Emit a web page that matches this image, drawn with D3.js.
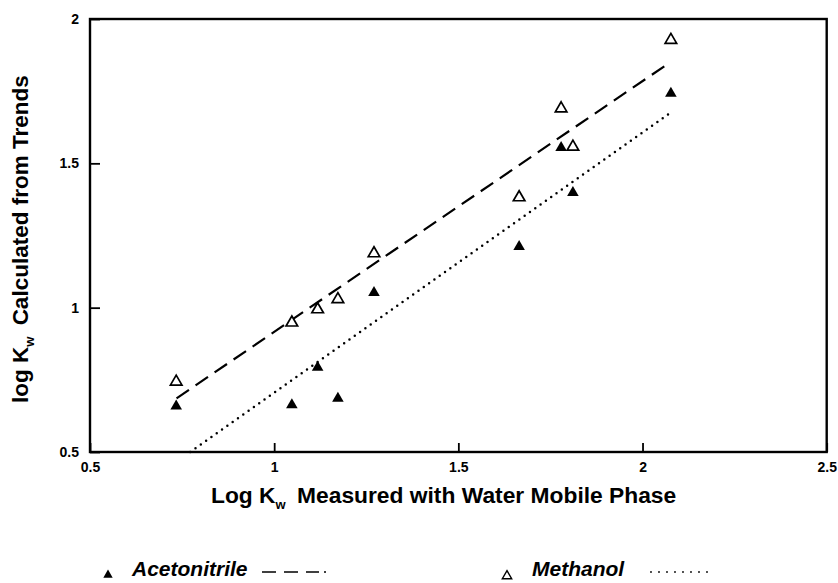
<!doctype html>
<html lang="en">
<head>
<meta charset="utf-8" />
<title>log Kw</title>
<script src="https://d3js.org/d3.v7.min.js"></script>
<style>
  body { margin: 0; background: #fff; }
  svg { display: block; font-family: "Liberation Sans", Arial, sans-serif; }
  .tick line { stroke: #000; stroke-width: 1.8; }
</style>
</head>
<body>
<div id="chart"></div>
<script>
// measured log Kw (x) and the two calculated series (y)
var logKwMeasured = [0.734, 1.048, 1.118, 1.173, 1.271, 1.665, 1.779, 1.811, 2.077];
var acetonitrile  = [0.659, 0.663, 0.793, 0.686, 1.052, 1.211, 1.554, 1.398, 1.742];
var methanol      = [0.743, 0.948, 0.994, 1.029, 1.188, 1.382, 1.690, 1.557, 1.927];

// trend lines, as drawn (end points)
var dashedX = [0.735, 2.067], dashedY = [0.686, 1.843];
var dottedX = [0.772, 2.070], dottedY = [0.5, 1.670];

var xTicks = [0.5, 1, 1.5, 2, 2.5];
var yTicks = [0.5, 1, 1.5, 2];

var width = 838, height = 583;
var plotLeft = 90, plotRight = 826.7, plotTop = 19, plotBottom = 452;

var svg = d3.select("#chart").append("svg")
  .attr("width", width)
  .attr("height", height);

var x = d3.scaleLinear().domain([0.5, 2.5]).range([plotLeft, plotRight]);
var y = d3.scaleLinear().domain([0.5, 2]).range([plotBottom, plotTop]);

// axes, ticks pointing inward
var xAxis = d3.axisBottom(x).tickValues(xTicks).tickFormat(d3.format(""))
  .tickSizeInner(-9).tickSizeOuter(0).tickPadding(10);
var yAxis = d3.axisLeft(y).tickValues(yTicks).tickFormat(d3.format(""))
  .tickSizeInner(-10).tickSizeOuter(0).tickPadding(11);

function styleAxis(g) {
  g.select(".domain").remove();
  g.attr("font-family", null).attr("font-size", null);
  g.selectAll("text").attr("font-size", "14px").attr("font-weight", "bold").attr("fill", "#000");
}

svg.append("g").attr("transform", "translate(0," + plotBottom + ")").call(xAxis).call(styleAxis);
svg.append("g").attr("transform", "translate(" + plotLeft + ",0)").call(yAxis).call(styleAxis);

// frame round the plot
svg.append("rect")
  .attr("x", plotLeft).attr("y", plotTop)
  .attr("width", plotRight - plotLeft).attr("height", plotBottom - plotTop)
  .attr("fill", "none").attr("stroke", "#000").attr("stroke-width", 2.4);

// trend lines
var line = d3.line().x(function(d){ return x(d[0]); }).y(function(d){ return y(d[1]); });

svg.append("path")
  .datum(d3.zip(dashedX, dashedY))
  .attr("d", line)
  .attr("fill", "none").attr("stroke", "#000").attr("stroke-width", 2.2)
  .attr("stroke-dasharray", "15,8");

svg.append("path")
  .datum(d3.zip(dottedX, dottedY))
  .attr("d", line)
  .attr("fill", "none").attr("stroke", "#000").attr("stroke-width", 2.5)
  .attr("stroke-linecap", "round")
  .attr("stroke-dasharray", "0,6.5");

// points
var tri = d3.symbol().type(d3.symbolTriangle).size(58);

svg.selectAll(".meth").data(d3.zip(logKwMeasured, methanol)).enter()
  .append("path").attr("class", "meth")
  .attr("d", tri)
  .attr("transform", function(d){ return "translate(" + x(d[0]) + "," + y(d[1]) + ")"; })
  .attr("fill", "#fff").attr("stroke", "#000").attr("stroke-width", 1.7);

svg.selectAll(".acn").data(d3.zip(logKwMeasured, acetonitrile)).enter()
  .append("path").attr("class", "acn")
  .attr("d", tri)
  .attr("transform", function(d){ return "translate(" + x(d[0]) + "," + y(d[1]) + ")"; })
  .attr("fill", "#000");

// axis titles
var xt = svg.append("text")
  .attr("x", 211).attr("y", 503)
  .attr("font-size", "22.8px").attr("font-weight", "bold");
xt.append("tspan").text("Log K");
xt.append("tspan").attr("font-size", "13px").attr("dy", 6).text("w");
xt.append("tspan").attr("dy", -6).attr("dx", 5).text(" Measured with Water Mobile Phase");

var yt = svg.append("text")
  .attr("transform", "translate(28,403) rotate(-90)")
  .attr("font-size", "22.5px").attr("font-weight", "bold");
yt.append("tspan").text("log K");
yt.append("tspan").attr("font-size", "13px").attr("dy", 6).text("w");
yt.append("tspan").attr("dy", -6).attr("dx", 5).text(" Calculated from Trends");

// legend
var legTri = d3.symbol().type(d3.symbolTriangle).size(38);

svg.append("path").attr("d", legTri)
  .attr("transform", "translate(108,575)").attr("fill", "#000");
svg.append("text").attr("x", 132).attr("y", 576)
  .attr("font-size", "21px").attr("font-weight", "bold").attr("font-style", "italic")
  .text("Acetonitrile");
svg.append("line").attr("x1", 262).attr("x2", 327).attr("y1", 572).attr("y2", 572)
  .attr("stroke", "#000").attr("stroke-width", 1.6).attr("stroke-dasharray", "14,8,14,8,13,5,2,30");

svg.append("path").attr("d", legTri)
  .attr("transform", "translate(507,576)")
  .attr("fill", "#fff").attr("stroke", "#000").attr("stroke-width", 1.4);
svg.append("text").attr("x", 532).attr("y", 576)
  .attr("font-size", "21px").attr("font-weight", "bold").attr("font-style", "italic")
  .text("Methanol");
svg.append("line").attr("x1", 651).attr("x2", 708).attr("y1", 572).attr("y2", 572)
  .attr("stroke", "#000").attr("stroke-width", 1.8).attr("stroke-linecap", "round")
  .attr("stroke-dasharray", "0,8");
</script>
</body>
</html>
